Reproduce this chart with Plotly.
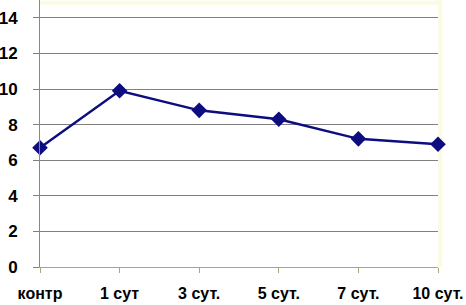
import plotly.graph_objects as go

categories = ["контр", "1 сут", "3 сут.", "5 сут.", "7 сут.", "10 сут."]
values = [6.7, 9.9, 8.8, 8.3, 7.2, 6.9]
y_ticks = [0, 2, 4, 6, 8, 10, 12, 14]

fig = go.Figure()
fig.add_trace(go.Scatter(
    x=categories, y=values, mode="lines+markers",
    line=dict(color="#0d0d80", width=2.5),
    marker=dict(symbol="diamond", size=12, color="#0d0d80"),
    cliponaxis=False, showlegend=False,
))

tfont = dict(family="Liberation Sans, Arial, sans-serif", size=17, color="#000000", weight="bold")
xfont = dict(family="Liberation Sans, Arial, sans-serif", size=16, color="#000000", weight="bold")

fig.update_layout(
    width=466, height=305,
    margin=dict(l=40, r=28, t=0, b=38, autoexpand=False),
    paper_bgcolor="white", plot_bgcolor="white",
    font=tfont,
    xaxis=dict(
        type="category", range=[0, 5], showgrid=False, zeroline=False,
        showline=True, linecolor="#a8a878", linewidth=1,
        ticks="outside", ticklen=5, tickcolor="#a8a878",
        tickfont=xfont, ticklabelstandoff=7,
    ),
    yaxis=dict(
        range=[0, 15], tickvals=y_ticks, showgrid=True, gridcolor="#808080",
        gridwidth=1, zeroline=False, showline=True, linecolor="#8c8c5c",
        linewidth=1, ticks="outside", ticklen=6, tickcolor="#808080",
        tickfont=tfont, ticklabelstandoff=12,
    ),
    shapes=[
        dict(type="line", xref="paper", yref="paper", x0=1.006, x1=1.006, y0=0, y1=1,
             line=dict(color="#fbfbe2", width=4), layer="below"),
        dict(type="line", xref="paper", yref="paper", x0=0, x1=1.01, y0=0.99, y1=0.99,
             line=dict(color="#fbfbe2", width=4), layer="below"),
    ],
)

fig.write_html(
    "out.html",
    config={"displayModeBar": False},
    post_script="document.body.style.margin='0';document.body.style.overflow='hidden';",
)
